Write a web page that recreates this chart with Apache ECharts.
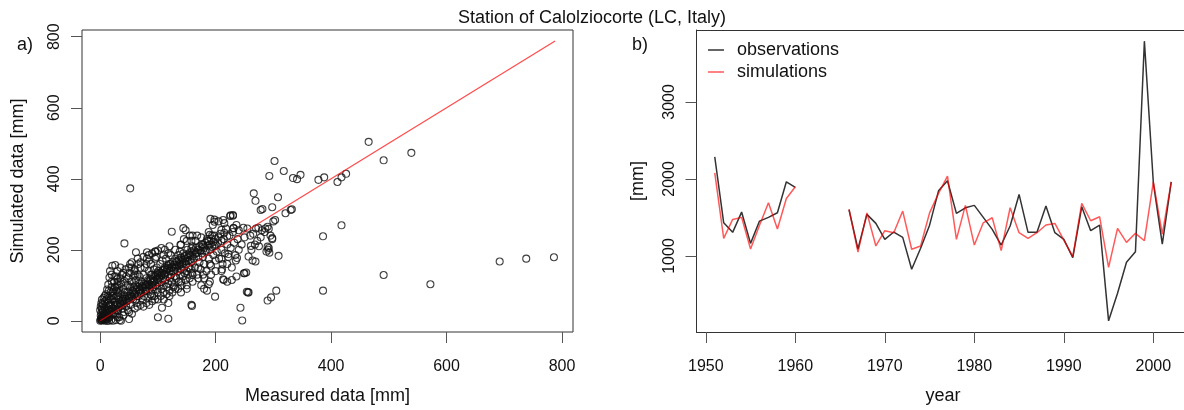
<!DOCTYPE html>
<html>
<head>
<meta charset="utf-8">
<script src="https://cdn.jsdelivr.net/npm/echarts@6/dist/echarts.min.js"></script>
<style>
html,body{margin:0;padding:0;background:#fff;}
#chart{width:1184px;height:410px;}
</style>
</head>
<body>
<div id="chart"></div>
<script>
// ---------- DATA ----------
const chartTitle = 'Station of Calolziocorte (LC, Italy)';
const scatterTicks = [0, 200, 400, 600, 800];
const yearTicks = [1950, 1960, 1970, 1980, 1990, 2000];
const mmTicks = [1000, 2000, 3000];
const oneToOne = [0, 788];

// monthly measured vs simulated [mm]
const scatterPoints = [
 [0,0],[1,3],[2,8],[3,1],[4,12],[5,5],[6,18],[2,22],[7,9],[8,30],[3,35],[9,15],[10,42],[5,27],[1,14],[4,48],[6,2],[8,55],[10,24],[7,38],[9,0],[3,60],[0,30],[5,45],
 [2,2],[3,5],[4,7],[5,10],[6,6],[7,14],[8,3],[9,20],[1,40],[2,50],[4,30],[6,65],[8,70],[10,75],[12,0],[14,30],[16,45],[18,60],[20,70],[22,82],[24,65],[26,95],[28,85],[30,72],
 [11,5],[12,20],[13,35],[14,50],[15,65],[16,10],[17,28],[18,80],[19,45],[20,95],[21,60],[22,18],[23,72],[24,110],[12,88],[14,102],[16,122],[20,130],[21,155],[26,157],[18,40],[22,0],[25,52],[13,70],[17,140],[24,88],[19,2],[15,0],[23,33],[11,60],
 [26,20],[27,45],[28,70],[29,95],[30,118],[31,30],[32,60],[33,85],[34,2],[35,48],[36,105],[37,75],[38,130],[39,55],[40,90],[41,25],[42,112],[43,68],[44,145],[45,40],[28,125],[30,140],[33,10],[36,0],[40,62],[42,80],[44,100],[27,2],[31,80],[38,35],[35,150],[30,110],
 [46,55],[47,80],[48,100],[49,120],[50,70],[51,135],[52,95],[53,45],[54,150],[55,110],[56,85],[57,60],[58,125],[59,140],[60,75],[61,100],[62,115],[63,50],[64,90],[65,130],[66,160],[67,70],[68,105],[69,85],[48,30],[55,20],[52,160],[60,145],[65,40],[50,5],[58,95],[62,60],[68,125],[70,150],
 [71,80],[72,110],[73,95],[74,60],[75,130],[76,70],[77,150],[78,100],[79,85],[80,120],[81,175],[82,65],[83,105],[84,140],[85,90],[86,115],[87,75],[88,160],[89,100],[90,130],[91,85],[92,110],[93,145],[94,70],[95,125],[96,100],[97,180],[98,90],[99,135],[100,115],[75,40],[85,45],[90,55],[95,60],[80,100],[88,130],[92,95],[98,150],[84,185],[96,195],[100,80],
 [101,140],[102,100],[103,125],[104,160],[105,110],[106,90],[107,135],[108,170],[109,120],[110,100],[111,145],[112,130],[113,115],[114,175],[115,95],[116,150],[117,125],[118,105],[119,160],[120,140],[121,120],[122,185],[123,130],[124,110],[125,150],[126,165],[127,95],[128,140],[129,125],[130,175],[105,70],[110,60],[115,75],[120,85],[125,80],[112,200],[106,205],[118,190],[128,100],
 [131,150],[132,120],[133,165],[134,140],[135,185],[136,110],[137,155],[138,130],[139,170],[140,145],[141,100],[142,160],[143,125],[144,190],[145,150],[146,135],[147,175],[148,115],[149,160],[150,140],[151,200],[152,130],[153,170],[154,150],[155,120],[156,185],[157,145],[158,165],[159,135],[160,210],[135,90],[140,80],[145,230],[150,100],[155,240],[148,255],[158,225],[160,110],[138,195],
 [162,175],[164,150],[166,190],[168,130],[170,200],[172,165],[174,145],[176,215],[178,180],[180,160],[182,195],[184,140],[186,225],[188,175],[190,200],[192,155],[194,240],[196,185],[198,210],[200,170],[165,225],[170,120],[175,100],[180,90],[185,230],[190,110],[195,270],[198,285],[200,230],[168,240],[178,130],[188,250],[192,130],[185,85],[175,235],
 [202,195],[204,220],[206,175],[208,245],[210,200],[212,160],[214,230],[216,190],[218,260],[220,215],[222,180],[224,240],[226,205],[228,150],[230,250],[232,220],[234,185],[236,270],[238,230],[240,200],[205,280],[215,275],[225,295],[230,296],[210,140],[220,110],[235,170],[240,255],[245,215],[250,235],[255,260],[260,240],[228,115],
 [262,200],[265,245],[270,260],[272,225],[275,210],[280,255],[285,250],[290,265],[295,240],[300,280],[268,215],[278,235],[288,195],[292,205],[298,230],[264,170],[286,260],
 [10,10],[12,15],[14,8],[16,25],[18,20],[20,28],[22,35],[24,22],[26,40],[28,30],[30,45],[32,38],[34,50],[36,42],[38,58],[40,48],[42,55],[44,62],[46,70],[48,58],[50,65],[52,75],[54,68],[56,80],[58,72],[60,88],[62,82],[64,70],[66,95],[68,88],[70,78],[72,98],[74,92],[76,105],[78,85],[80,95],[82,110],[84,98],[86,102],[88,118],[90,108],[92,120],[94,112],[96,128],[98,118],[100,130],[102,122],[104,135],[106,128],[108,142],[110,132],[112,150],[114,138],[116,145],[118,155],[120,148],[122,160],[124,152],[126,140],[128,158],[130,150],[132,168],[134,155],[136,172],[138,160],[140,178],[142,165],[144,172],[146,182],[148,168],[150,185],[152,178],[154,190],[156,172],[158,195],[160,182],[162,198],[164,188],[166,205],[168,192],[170,180],[172,210],[174,198],[176,190],[178,215],[180,205],[182,220],[184,198],[186,212],[188,225],[190,215],[192,232],[194,208],[196,222],[198,240],[200,215],[205,235],[210,225],[215,248],[220,238],
 [15,85],[20,110],[25,125],[30,100],[35,120],[40,135],[45,125],[50,150],[55,165],[60,130],[65,175],[70,165],[75,180],[80,160],[85,170],[90,190],[95,175],[100,198],[110,185],[120,210],[130,200],[140,215],[150,225],[160,240],
 [30,10],[40,15],[50,25],[60,35],[70,45],[80,50],[90,70],[100,60],[110,80],[120,70],[130,90],[140,110],[150,90],[160,130],[170,150],[180,120],[190,160],[200,140],[210,175],[220,160],
 [52,373],[42,218],[62,193],[81,193],[95,195],[124,251],[144,261],[100,10],[118,6],[107,37],[118,50],[159,42],[199,68],[214,115],[236,125],[253,136],[254,82],
 [191,287],[198,279],[213,284],[210,256],[226,297],[231,261],[190,242],[178,209],[158,204],[139,214],[222,188],[211,145],[213,117],[188,103],[158,45],[249,134],[256,80],[261,211],
 [465,504],[491,452],[539,473],[302,450],[318,422],[293,408],[334,402],[341,399],[347,411],[378,397],[388,404],[411,391],[418,404],[426,414],
 [266,359],[269,338],[308,348],[298,320],[278,312],[281,315],[332,314],[330,312],[321,303],[303,284],[418,269],[386,238],[230,298],[231,261],[248,262],[292,259],[274,262],
 [298,233],[290,209],[291,200],[293,192],[309,183],[269,167],[257,181],[237,177],[250,134],[257,80],[243,37],[246,1],[290,57],[296,66],[305,85],[386,85],
 [491,129],[572,103],[692,167],[738,175],[786,179]
];

const years = [1951,1952,1953,1954,1955,1956,1957,1958,1959,1960,1961,1962,1963,1964,1965,1966,1967,1968,1969,1970,1971,1972,1973,1974,1975,1976,1977,1978,1979,1980,1981,1982,1983,1984,1985,1986,1987,1988,1989,1990,1991,1992,1993,1994,1995,1996,1997,1998,1999,2000,2001,2002];
const observations = [2286,1431,1307,1570,1164,1453,1501,1561,1963,1890,null,null,null,null,null,1600,1090,1540,1423,1216,1311,1242,828,1100,1400,1846,1976,1553,1626,1657,1501,1345,1142,1389,1799,1307,1307,1648,1302,1216,978,1639,1328,1402,158,517,918,1056,3789,1950,1155,1963];
const simulations = [2079,1229,1475,1501,1091,1400,1691,1350,1747,1898,null,null,null,null,null,1609,1050,1560,1130,1328,1302,1583,1087,1130,1560,1812,2036,1216,1657,1142,1431,1496,1069,1626,1302,1229,1302,1402,1423,1207,991,1683,1457,1509,853,1359,1177,1294,1198,1963,1285,1963];

// ---------- CHART ----------
const FONT = '"Liberation Sans", Arial, Helvetica, sans-serif';
const chart = echarts.init(document.getElementById('chart'), null, {renderer: 'canvas'});

const tickStyle = {show: true, length: 11, inside: false, lineStyle: {color: '#555', width: 1}};
function labelStyle(rotate, vals) {
  return {show: true, customValues: vals, rotate: rotate, fontSize: 16, color: '#111', fontFamily: FONT,
          margin: rotate ? 19 : 27, formatter: v => String(v)};
}
const nameStyle = {fontSize: 18, color: '#111', fontFamily: FONT};
const noLine = {show: false, onZero: false};
const boxLine = {show: true, onZero: false, lineStyle: {color: '#333', width: 1}};

const option = {
  backgroundColor: '#fff',
  animation: false,
  title: {
    text: chartTitle, left: 'center', top: 4,
    textStyle: {fontSize: 18, fontWeight: 'normal', color: '#111', fontFamily: FONT}
  },
  legend: {
    data: ['observations', 'simulations'],
    orient: 'vertical', left: 703, top: 35,
    icon: 'rect', itemWidth: 16, itemHeight: 1.5, itemGap: 2,
    textStyle: {fontSize: 18, color: '#111', fontFamily: FONT, lineHeight: 20, padding: [0, 0, 0, 8]}
  },
  graphic: [
    {type: 'text', left: 17, top: 36, style: {text: 'a)', fontSize: 18, fill: '#111', fontFamily: FONT}},
    {type: 'text', left: 632, top: 36, style: {text: 'b)', fontSize: 18, fill: '#111', fontFamily: FONT}}
  ],
  grid: [
    {left: 82, top: 30, width: 491, height: 302, show: true, borderColor: '#333', borderWidth: 1,
     backgroundColor: 'transparent', outerBoundsMode: 'none', containLabel: false},
    {left: 696.5, top: 30, width: 493, height: 302, show: false,
     outerBoundsMode: 'none', containLabel: false}
  ],
  xAxis: [
    {type: 'value', gridIndex: 0, min: -31.5, max: 819,
     name: 'Measured data [mm]', nameLocation: 'middle', nameGap: 55, nameTextStyle: nameStyle,
     axisLine: noLine, axisTick: Object.assign({customValues: scatterTicks}, tickStyle),
     axisLabel: labelStyle(0, scatterTicks), splitLine: {show: false}},
    {type: 'value', gridIndex: 1, min: 1948.96, max: 2004.04, position: 'bottom',
     name: 'year', nameLocation: 'middle', nameGap: 55, nameTextStyle: nameStyle,
     axisLine: boxLine, axisTick: Object.assign({customValues: yearTicks}, tickStyle),
     axisLabel: labelStyle(0, yearTicks), splitLine: {show: false}},
    {type: 'value', gridIndex: 1, min: 1948.96, max: 2004.04, position: 'top',
     axisLine: boxLine, axisTick: {show: false}, axisLabel: {show: false}, splitLine: {show: false}}
  ],
  yAxis: [
    {type: 'value', gridIndex: 0, min: -31.5, max: 819,
     name: 'Simulated data [mm]', nameLocation: 'middle', nameGap: 55, nameTextStyle: nameStyle,
     axisLine: noLine, axisTick: Object.assign({customValues: scatterTicks}, tickStyle),
     axisLabel: labelStyle(90, scatterTicks), splitLine: {show: false}},
    {type: 'value', gridIndex: 1, min: 13, max: 3934, position: 'left',
     name: '[mm]', nameLocation: 'middle', nameGap: 49, nameTextStyle: nameStyle,
     axisLine: boxLine, axisTick: Object.assign({customValues: mmTicks}, tickStyle),
     axisLabel: labelStyle(90, mmTicks), splitLine: {show: false}}
  ],
  series: [
    {type: 'scatter', xAxisIndex: 0, yAxisIndex: 0, data: scatterPoints,
     symbol: 'circle', symbolSize: 7,
     itemStyle: {color: 'rgba(0,0,0,0)', borderColor: '#111', borderWidth: 1.1},
     emphasis: {disabled: true}, z: 2},
    {type: 'line', xAxisIndex: 0, yAxisIndex: 0,
     data: [[oneToOne[0], oneToOne[0]], [oneToOne[1], oneToOne[1]]],
     showSymbol: false, lineStyle: {color: 'rgba(255,0,0,0.7)', width: 1.3}, z: 3},
    {name: 'observations', type: 'line', xAxisIndex: 1, yAxisIndex: 1,
     data: years.map((y, i) => [y, observations[i]]),
     showSymbol: false, connectNulls: false,
     itemStyle: {color: '#333'}, lineStyle: {color: '#333', width: 1.5}, z: 3},
    {name: 'simulations', type: 'line', xAxisIndex: 1, yAxisIndex: 1,
     data: years.map((y, i) => [y, simulations[i]]),
     showSymbol: false, connectNulls: false,
     itemStyle: {color: 'rgba(255,0,0,0.65)'}, lineStyle: {color: 'rgba(255,0,0,0.65)', width: 1.5}, z: 4}
  ]
};
chart.setOption(option);
</script>
</body>
</html>
